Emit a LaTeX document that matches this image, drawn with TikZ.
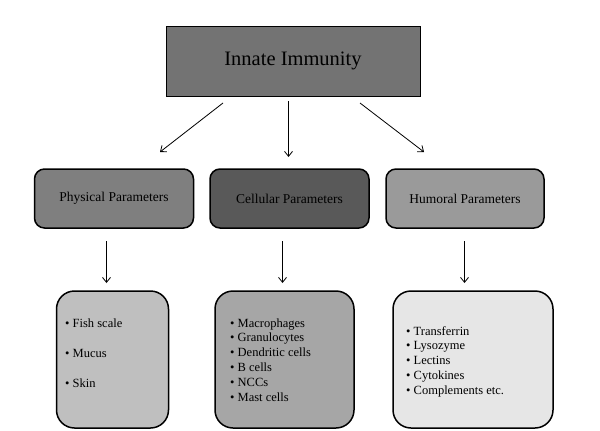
\documentclass[tikz,border=0pt]{standalone}
\usepackage{fontspec}
\setmainfont{Liberation Serif}
\usetikzlibrary{arrows.meta}
\definecolor{topgray}{HTML}{737373}
\definecolor{physgray}{HTML}{7F7F7F}
\definecolor{cellgray}{HTML}{595959}
\definecolor{humgray}{HTML}{9A9A9A}
\definecolor{physlight}{HTML}{BFBFBF}
\definecolor{celllight}{HTML}{A6A6A6}
\definecolor{humlight}{HTML}{E6E6E6}
\tikzset{
  topbox/.style={draw=black, line width=0.8pt, fill=topgray, inner sep=0pt,
    minimum width=254pt, minimum height=70pt, font=\fontsize{20.5}{24}\selectfont},
  parambox/.style={draw=black, line width=1.5pt, rounded corners=10pt, inner sep=0pt,
    minimum width=159pt, minimum height=59pt, font=\fontsize{13.5}{16}\selectfont},
  listbox/.style={draw=black, line width=1.5pt, rounded corners=18pt, inner sep=0pt,
    minimum height=137pt},
  listtext/.style={anchor=base west, inner sep=0pt, align=left},
  arr/.style={draw=black, line width=0.8pt, -{Straight Barb[length=5pt,width=8pt]}}
}
\begin{document}
\begin{tikzpicture}[x=1pt,y=-1pt]
\useasboundingbox (0,0) rectangle (600,431);
% top
\node[topbox] (top) at (293,61) {Innate Immunity};
% middle row
\node[parambox, fill=physgray] (phys) at (114,198.5) {Physical Parameters};
\node[parambox, fill=cellgray] (cell) at (289.5,198.5) {Cellular Parameters};
\node[parambox, fill=humgray, minimum width=158pt] (hum) at (465,198.5) {Humoral Parameters};
% bottom row
\node[listbox, fill=physlight, minimum width=112pt] (physl) at (112.5,359.5) {};
\node[listbox, fill=celllight, minimum width=139pt] (celll) at (284.5,359.5) {};
\node[listbox, fill=humlight, minimum width=160pt] (huml) at (473,359.5) {};
% list texts
\node[listtext] (physt) at (65,327) {\fontsize{12.5}{30}\selectfont
  \begin{tabular}[t]{@{}l@{}}\textbullet\ Fish scale\\ \textbullet\ Mucus\\ \textbullet\ Skin\end{tabular}};
\node[listtext] (cellt) at (230,327) {\fontsize{12.5}{14.8}\selectfont
  \begin{tabular}[t]{@{}l@{}}\textbullet\ Macrophages\\ \textbullet\ Granulocytes\\ \textbullet\ Dendritic cells\\ \textbullet\ B cells\\ \textbullet\ NCCs\\ \textbullet\ Mast cells\end{tabular}};
\node[listtext] (humt) at (406,335) {\fontsize{12.5}{14.8}\selectfont
  \begin{tabular}[t]{@{}l@{}}\textbullet\ Transferrin\\ \textbullet\ Lysozyme\\ \textbullet\ Lectins\\ \textbullet\ Cytokines\\ \textbullet\ Complements etc.\end{tabular}};
% arrow end points
\coordinate (a1s) at (223,103); \coordinate (a1e) at (160,152);
\coordinate (a2s) at (288.5,101); \coordinate (a2e) at (288.5,157);
\coordinate (a3s) at (360,103); \coordinate (a3e) at (424,152);
\coordinate (b1s) at (106.5,241); \coordinate (b1e) at (106.5,283);
\coordinate (b2s) at (282.5,241); \coordinate (b2e) at (282.5,283);
\coordinate (b3s) at (464.5,241); \coordinate (b3e) at (464.5,283);
\draw[arr] (a1s) -- (a1e);
\draw[arr] (a2s) -- (a2e);
\draw[arr] (a3s) -- (a3e);
\draw[arr] (b1s) -- (b1e);
\draw[arr] (b2s) -- (b2e);
\draw[arr] (b3s) -- (b3e);
\end{tikzpicture}
\end{document}
